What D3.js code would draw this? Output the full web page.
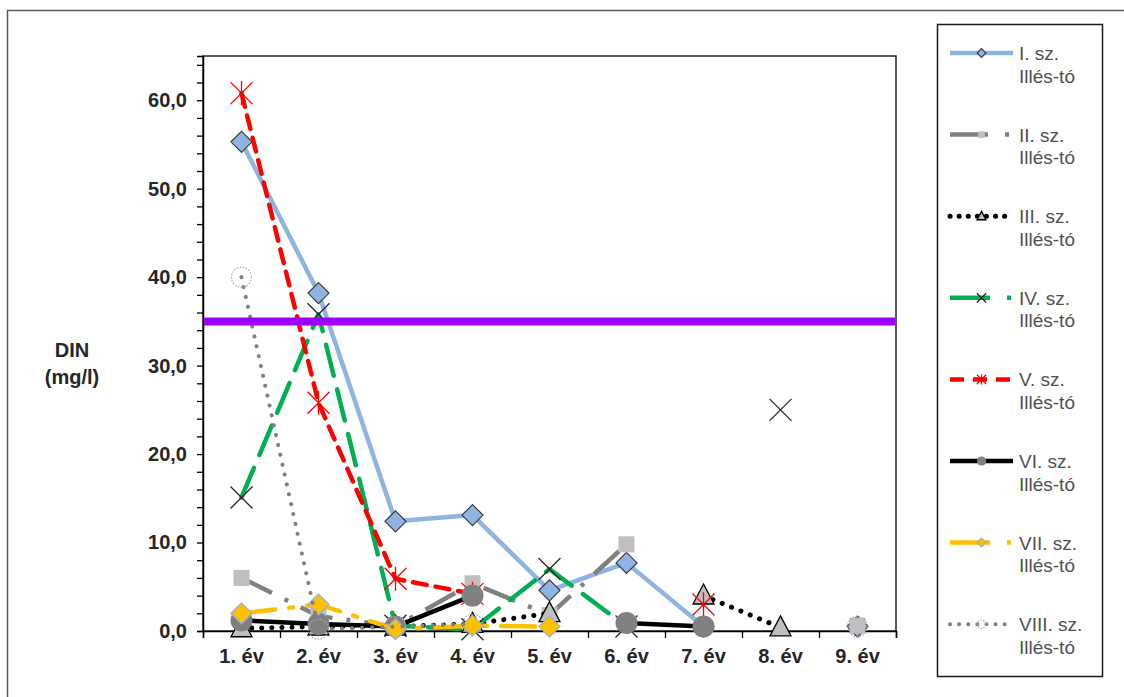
<!DOCTYPE html>
<html>
<head>
<meta charset="utf-8">
<script src="https://cdn.jsdelivr.net/npm/d3@7"></script>
<style>
  html, body { margin: 0; padding: 0; background: #fff; }
  svg { display: block; font-family: "Liberation Sans", Arial, sans-serif; }
</style>
</head>
<body>
<svg id="chart" width="1124" height="697"></svg>
<script>
// ---- data ----
const categories = ["1. év", "2. év", "3. év", "4. év", "5. év", "6. év", "7. év", "8. év", "9. év"];
const seriesNames = ["I. sz.", "II. sz.", "III. sz.", "IV. sz.", "V. sz.", "VI. sz.", "VII. sz.", "VIII. sz."];
const legendSub = "Illés-tó";
const s1 = [55.3, 38.2, 12.4, 13.1, 4.6, 7.7, 0.5, null, 0.5];
const s2 = [6.0, 1.7, 0.5, 5.4, 1.8, 9.8, null, null, 0.6];
const s3 = [0.3, 0.5, 0.5, 0.8, 2.0, null, 4.0, 0.4, null];
const s4 = [15.1, 35.8, 0.6, 0.2, 7.0, 0.5, null, 25.0, null];
const s5 = [60.8, 25.8, 5.9, 4.2, null, null, 3.0, null, null];
const s6 = [1.2, 0.8, 0.5, 4.0, null, 0.9, 0.5, null, null];
const s7 = [2.0, 3.0, 0.2, 0.6, 0.5, null, null, null, null];
const s8 = [40.0, 0.2, 0.5, 0.8, null, null, null, null, 0.5];
const limitValue = 35.0;
const yTickValues = d3.range(0, 65, 2);
const yLabelValues = [0, 10, 20, 30, 40, 50, 60];
const yTitle = ["DIN", "(mg/l)"];

const allSeries = [s1, s2, s3, s4, s5, s6, s7, s8];

// ---- styles ----
const styles = [
  { color: "#8EB4E3", width: 4.5, dash: null, ldash: null, cap: "round", marker: "diamond" },
  { color: "#808080", width: 4.5, dash: "34,14,4,14", ldash: "38,17,4,20", cap: "butt", marker: "square" },
  { color: "#000000", width: 5, dash: "0.1,10", ldash: "0.1,9", cap: "round", marker: "triangle" },
  { color: "#00B050", width: 4.5, dash: "32,14", ldash: "40,17,4,20", cap: "round", marker: "x" },
  { color: "#FF0000", width: 4.5, dash: "14,9", ldash: "14,9", cap: "round", marker: "star" },
  { color: "#000000", width: 4.5, dash: null, ldash: null, cap: "round", marker: "circle" },
  { color: "#FFC000", width: 4.5, dash: "34,14,4,14", ldash: "40,17,4,20", cap: "round", marker: "ydiamond" },
  { color: "#808080", width: 4, dash: "0.1,10", ldash: "0.1,9", cap: "round", marker: "ocircle" }
];

const svg = d3.select("#chart");
const plot = { left: 203, right: 896, top: 56, bottom: 631 };

// outer border
svg.append("rect").attr("x", 7.5).attr("y", 10.5).attr("width", 1200).attr("height", 800)
  .attr("fill", "none").attr("stroke", "#595959").attr("stroke-width", 1.5);

const x = d3.scaleBand().domain(categories).range([plot.left, plot.right]).padding(0);
const xIdx = d3.scaleLinear().domain([0, categories.length]).range([plot.left, plot.right]);
const y = d3.scaleLinear().domain([0, 65]).range([plot.bottom, plot.top]);
const cx = c => x(c) + x.bandwidth() / 2;

// plot frame
svg.append("rect").attr("x", plot.left).attr("y", plot.top)
  .attr("width", plot.right - plot.left).attr("height", plot.bottom - plot.top)
  .attr("fill", "none").attr("stroke", "#262626").attr("stroke-width", 1.5);

// y axis
const yAxis = d3.axisLeft(y).tickValues(yTickValues).tickSize(6).tickPadding(8)
  .tickFormat(d => yLabelValues.includes(d) ? d.toFixed(1).replace(".", ",") : "");
const gy = svg.append("g").attr("transform", `translate(${plot.left},0)`).call(yAxis);
gy.select(".domain").attr("stroke", "#000").attr("stroke-width", 1.5);
gy.selectAll(".tick line").attr("stroke", "#000").attr("stroke-width", 1.3);
gy.selectAll(".tick text").attr("font-size", 20).attr("font-weight", "bold").attr("fill", "#262626")
  .attr("dx", -2);

// x axis
const xTicks = d3.axisBottom(xIdx).tickValues(d3.range(categories.length + 1)).tickSize(7).tickFormat("");
const gx = svg.append("g").attr("transform", `translate(0,${plot.bottom})`).call(xTicks);
gx.select(".domain").attr("stroke", "#000").attr("stroke-width", 1.5);
gx.selectAll(".tick line").attr("stroke", "#000").attr("stroke-width", 1.3);
const gxl = svg.append("g").attr("transform", `translate(0,${plot.bottom})`)
  .call(d3.axisBottom(x).tickSize(0).tickPadding(18));
gxl.select(".domain").remove();
gxl.selectAll(".tick text").attr("font-size", 20).attr("font-weight", "bold").attr("fill", "#262626");

// y title
const yt = svg.append("text").attr("x", 72).attr("y", 357).attr("text-anchor", "middle")
  .attr("font-size", 20).attr("font-weight", "bold").attr("fill", "#262626");
yt.append("tspan").attr("x", 72).attr("dy", 0).text(yTitle[0]);
yt.append("tspan").attr("x", 72).attr("dy", 27).text(yTitle[1]);

// markers
function drawMarker(g, type, px, py, s) {
  if (type === "diamond" || type === "ydiamond") {
    const r = 10.5 * s;
    g.append("path").attr("d", `M${px},${py - r}L${px + r},${py}L${px},${py + r}L${px - r},${py}Z`)
      .attr("fill", type === "diamond" ? "#8DB4E2" : "#FFC000")
      .attr("stroke", type === "diamond" ? "#3A3A3A" : "#95B3D7").attr("stroke-width", 1.2);
  } else if (type === "square") {
    const r = 8 * s;
    g.append("rect").attr("x", px - r).attr("y", py - r).attr("width", 2 * r).attr("height", 2 * r)
      .attr("fill", "#BFBFBF");
  } else if (type === "triangle") {
    const r = 10.5 * s;
    g.append("path").attr("d", `M${px},${py - r * 1.1}L${px + r},${py + r * 0.8}L${px - r},${py + r * 0.8}Z`)
      .attr("fill", "#BFBFBF").attr("stroke", "#000").attr("stroke-width", 1.3);
  } else if (type === "x") {
    const r = 11 * s;
    g.append("path").attr("d", `M${px - r},${py - r}L${px + r},${py + r}M${px - r},${py + r}L${px + r},${py - r}`)
      .attr("stroke", "#262626").attr("stroke-width", 1.3).attr("fill", "none");
  } else if (type === "star") {
    const r = 11 * s;
    g.append("path").attr("d", `M${px - r},${py - r}L${px + r},${py + r}M${px - r},${py + r}L${px + r},${py - r}M${px},${py - r * 1.1}L${px},${py + r * 1.1}`)
      .attr("stroke", "#FF0000").attr("stroke-width", 1.3).attr("fill", "none");
  } else if (type === "circle") {
    g.append("circle").attr("cx", px).attr("cy", py).attr("r", 11 * s).attr("fill", "#808080");
  } else if (type === "ocircle") {
    g.append("circle").attr("cx", px).attr("cy", py).attr("r", 10 * s).attr("fill", "none")
      .attr("stroke", "#A6A6A6").attr("stroke-width", 1.2).attr("stroke-dasharray", "1.5,1.5");
  }
}

const plotG = svg.append("g");
allSeries.forEach((vals, i) => {
  const st = styles[i];
  const data = categories.map((c, j) => ({ c, v: vals[j] }));
  const line = d3.line().defined(d => d.v !== null).x(d => cx(d.c)).y(d => y(d.v));
  const g = plotG.append("g");
  g.append("path").datum(data).attr("d", line).attr("fill", "none")
    .attr("stroke", st.color).attr("stroke-width", st.width)
    .attr("stroke-linecap", st.cap).attr("stroke-linejoin", "round")
    .attr("stroke-dasharray", st.dash);
  data.filter(d => d.v !== null).forEach(d => drawMarker(g, st.marker, cx(d.c), y(d.v), 1));
});

// limit line
svg.append("line").attr("x1", plot.left + 1).attr("x2", plot.right - 1)
  .attr("y1", y(limitValue)).attr("y2", y(limitValue))
  .attr("stroke", "#9B00FF").attr("stroke-width", 8);

// legend
const lg = svg.append("g");
lg.append("rect").attr("x", 937.5).attr("y", 24.5).attr("width", 165).attr("height", 652)
  .attr("fill", "#fff").attr("stroke", "#1a1a1a").attr("stroke-width", 1.5);
seriesNames.forEach((name, i) => {
  const st = styles[i];
  const ly = 53 + i * 81.6;
  const g = lg.append("g");
  g.append("line").attr("x1", 950).attr("x2", 1013).attr("y1", ly).attr("y2", ly)
    .attr("stroke", st.color).attr("stroke-width", st.width)
    .attr("stroke-linecap", st.ldash && st.ldash.startsWith("0.1") ? "round" : "butt")
    .attr("stroke-dasharray", st.ldash);
  drawMarker(g, st.marker, 981.5, ly, 0.42);
  const t = g.append("text").attr("x", 1019).attr("y", ly + 7).attr("font-size", 19).attr("fill", "#505050");
  t.append("tspan").attr("x", 1019).attr("dy", 0).text(name);
  t.append("tspan").attr("x", 1019).attr("dy", 22.5).text(legendSub);
});
</script>
</body>
</html>
